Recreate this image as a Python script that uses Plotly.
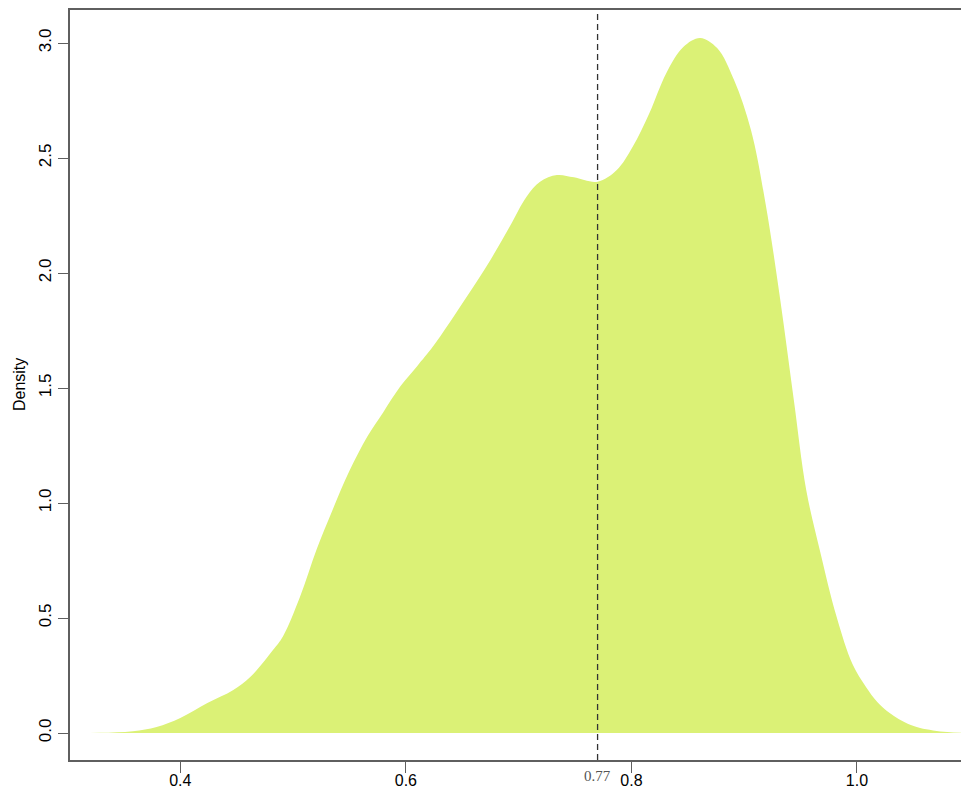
import plotly.graph_objects as go

# Kernel density estimate (x value, density)
dens_x = [0.300, 0.329, 0.358, 0.379, 0.400, 0.424, 0.447, 0.462, 0.482, 0.491,
          0.506, 0.521, 0.535, 0.550, 0.566, 0.580, 0.595, 0.610, 0.624, 0.654,
          0.675, 0.692, 0.707, 0.719, 0.734, 0.749, 0.770, 0.787, 0.801, 0.816,
          0.831, 0.846, 0.861, 0.876, 0.891, 0.906, 0.919, 0.932, 0.944, 0.955,
          0.967, 0.982, 0.996, 1.008, 1.018, 1.029, 1.045, 1.056, 1.080, 1.100]
dens_y = [0.000, 0.001, 0.008, 0.026, 0.065, 0.130, 0.187, 0.243, 0.360, 0.420,
          0.590, 0.800, 0.970, 1.140, 1.290, 1.395, 1.506, 1.595, 1.680, 1.897,
          2.057, 2.201, 2.332, 2.397, 2.426, 2.416, 2.397, 2.448, 2.548, 2.696,
          2.870, 2.983, 3.022, 2.978, 2.839, 2.622, 2.300, 1.883, 1.448, 1.057,
          0.796, 0.504, 0.300, 0.200, 0.135, 0.087, 0.040, 0.022, 0.004, 0.000]

mean_value = 0.77
mean_label = "0.77"

x_ticks = [0.4, 0.6, 0.8, 1.0]
y_ticks = [0.0, 0.5, 1.0, 1.5, 2.0, 2.5, 3.0]

fill_color = "#DBF176"
axis_color = "#5f5f5f"
font_main = "Liberation Sans, Arial, sans-serif"

fig = go.Figure()
fig.add_trace(go.Scatter(
    x=dens_x, y=dens_y,
    mode="lines",
    line=dict(width=0, color=fill_color, shape="spline", smoothing=1.0),
    fill="tozeroy",
    fillcolor=fill_color,
    hoverinfo="skip",
    showlegend=False,
))

# Dashed reference line at the mean
fig.add_shape(type="line", xref="x", yref="paper",
              x0=mean_value, x1=mean_value, y0=0, y1=1,
              line=dict(color="#333333", width=1.3, dash="6px,4px"))

fig.add_annotation(x=mean_value, xref="x", y=-0.021, yref="paper",
                   text=mean_label, showarrow=False,
                   font=dict(family="Liberation Serif, Times New Roman, serif",
                             size=15, color="#555555"),
                   xanchor="center", yanchor="middle")

fig.add_annotation(x=-0.0572, xref="paper", y=0.5, yref="paper",
                   text="Density", showarrow=False, textangle=-90,
                   font=dict(family=font_main, size=16, color="#000000"),
                   xanchor="center", yanchor="middle")

fig.update_layout(
    width=961, height=791,
    margin=dict(l=70, r=0, t=10, b=31),
    paper_bgcolor="white", plot_bgcolor="white",
    font=dict(family=font_main, size=17, color="#000000"),
    xaxis=dict(
        range=[0.30220, 1.09224],
        tickvals=x_ticks, tickformat=".1f",
        ticks="outside", ticklen=11, tickwidth=1.3, tickcolor=axis_color,
        showline=True, linecolor=axis_color, linewidth=1.6, mirror=True,
        showgrid=False, zeroline=False, automargin=False,
        tickfont=dict(size=16),
        ticklabelstandoff=-6,
    ),
    yaxis=dict(
        range=[-0.1174, 3.1435],
        tickvals=y_ticks, tickformat=".1f", tickangle=-90,
        ticks="outside", ticklen=10, tickwidth=1.3, tickcolor=axis_color,
        showline=True, linecolor=axis_color, linewidth=1.6, mirror=False,
        showgrid=False, zeroline=False, automargin=False,
        ticklabelstandoff=0,
    ),
)

fig.write_html("out.html")
